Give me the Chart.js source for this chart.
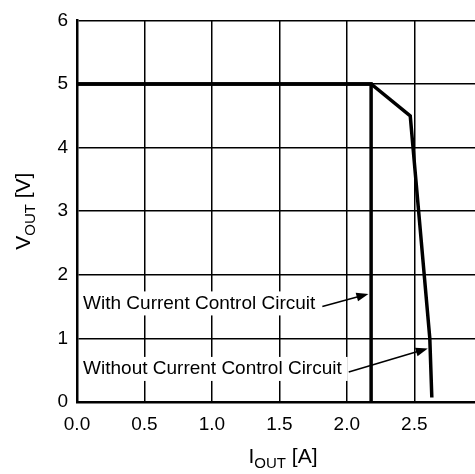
<!DOCTYPE html>
<html>
<head>
<meta charset="utf-8">
<script src="https://cdn.jsdelivr.net/npm/chart.js@4.4.0/dist/chart.umd.min.js"></script>
<style>
  body { margin: 0; background: #fff; }
  #wrap { width: 475px; height: 474px; }
</style>
</head>
<body>
<div id="wrap"><canvas id="vi" width="475" height="474"></canvas></div>
<script>
// curve with the current control circuit
const withX = [0, 2.18, 2.18];
const withY = [5, 5, 0];
// curve without it
const withoutX = [0, 2.18, 2.47, 2.615, 2.63];
const withoutY = [5, 5, 4.5, 1.0, 0.07];

const xMax = 2.95;
const yMax = 6;

// label text, label anchor (data units) and arrow tip (data units)
const notes = [
  { text: 'With Current Control Circuit', x: 0.045, y: 1.55, tipX: 2.16, tipY: 1.70 },
  { text: 'Without Current Control Circuit', x: 0.045, y: 0.52, tipX: 2.6, tipY: 0.84 }
];

const pts = (xs, ys) => xs.map((x, i) => ({ x: x, y: ys[i] }));
const FONT = '"Liberation Sans", Arial, sans-serif';

const notesPlugin = {
  id: 'notes',
  beforeDatasetsDraw(chart) {
    const ctx = chart.ctx;
    const xs = chart.scales.x, ys = chart.scales.y;
    ctx.save();
    ctx.font = '19px ' + FONT;
    ctx.textBaseline = 'middle';
    notes.forEach(n => {
      const px = xs.getPixelForValue(n.x);
      const py = ys.getPixelForValue(n.y);
      const w = ctx.measureText(n.text).width;
      ctx.fillStyle = '#fff';
      ctx.fillRect(px - 2, py - 12, w + 8, 24);
      ctx.fillStyle = '#000';
      ctx.fillText(n.text, px, py);
      // arrow
      const x0 = px + w + 7, y0 = py + 3;
      const x1 = xs.getPixelForValue(n.tipX), y1 = ys.getPixelForValue(n.tipY);
      const a = Math.atan2(y1 - y0, x1 - x0);
      ctx.strokeStyle = '#000';
      ctx.lineWidth = 1.5;
      ctx.beginPath();
      ctx.moveTo(x0, y0);
      ctx.lineTo(x1 - 8 * Math.cos(a), y1 - 8 * Math.sin(a));
      ctx.stroke();
      ctx.beginPath();
      ctx.moveTo(x1, y1);
      ctx.lineTo(x1 - 12 * Math.cos(a) + 4.5 * Math.sin(a), y1 - 12 * Math.sin(a) - 4.5 * Math.cos(a));
      ctx.lineTo(x1 - 12 * Math.cos(a) - 4.5 * Math.sin(a), y1 - 12 * Math.sin(a) + 4.5 * Math.cos(a));
      ctx.closePath();
      ctx.fill();
    });
    ctx.restore();
  },
  afterDraw(chart) {
    // axis titles with subscripts
    const ctx = chart.ctx;
    const area = chart.chartArea;
    ctx.save();
    ctx.fillStyle = '#000';
    ctx.textBaseline = 'alphabetic';
    const drawSub = (main, sub, rest) => {
      ctx.font = '21px ' + FONT;
      const w1 = ctx.measureText(main).width;
      const w3 = ctx.measureText(rest).width;
      ctx.font = '15px ' + FONT;
      const w2 = ctx.measureText(sub).width;
      const total = w1 + w2 + w3;
      let x = -total / 2;
      ctx.font = '21px ' + FONT;
      ctx.fillText(main, x, 0);
      x += w1;
      ctx.font = '15px ' + FONT;
      ctx.fillText(sub, x, 5);
      x += w2;
      ctx.font = '21px ' + FONT;
      ctx.fillText(rest, x, 0);
    };
    // x title
    ctx.save();
    ctx.translate(283, 463);
    drawSub('I', 'OUT', ' [A]');
    ctx.restore();
    // y title
    ctx.save();
    ctx.translate(30, (area.top + area.bottom) / 2);
    ctx.rotate(-Math.PI / 2);
    drawSub('V', 'OUT', ' [V]');
    ctx.restore();
    ctx.restore();
  }
};

new Chart(document.getElementById('vi').getContext('2d'), {
  type: 'line',
  data: {
    datasets: [
      {
        label: 'With Current Control Circuit',
        data: pts(withX, withY),
        borderColor: '#000',
        borderWidth: 3.5,
        pointRadius: 0,
        tension: 0
      },
      {
        label: 'Without Current Control Circuit',
        data: pts(withoutX, withoutY),
        borderColor: '#000',
        borderWidth: 3.5,
        pointRadius: 0,
        tension: 0
      }
    ]
  },
  options: {
    responsive: false,
    animation: false,
    layout: { padding: { top: 17, right: 0, left: 0, bottom: 0 } },
    plugins: { legend: { display: false }, tooltip: { enabled: false } },
    scales: {
      x: {
        type: 'linear',
        min: 0,
        max: xMax,
        border: { color: '#000', width: 2.5 },
        grid: { color: '#000', lineWidth: 1.5, drawTicks: false },
        ticks: {
          stepSize: 0.5,
          includeBounds: false,
          color: '#000',
          padding: 11,
          font: { size: 19, family: FONT },
          callback: v => v.toFixed(1)
        },
        afterFit(scale) { scale.height = 72; }
      },
      y: {
        min: 0,
        max: yMax,
        border: { color: '#000', width: 2.5 },
        grid: { color: '#000', lineWidth: 1.5, drawTicks: false },
        ticks: {
          stepSize: 1,
          color: '#000',
          padding: 9,
          font: { size: 19, family: FONT }
        },
        afterFit(scale) { scale.width = 77; }
      }
    }
  },
  plugins: [notesPlugin]
});
</script>
</body>
</html>
